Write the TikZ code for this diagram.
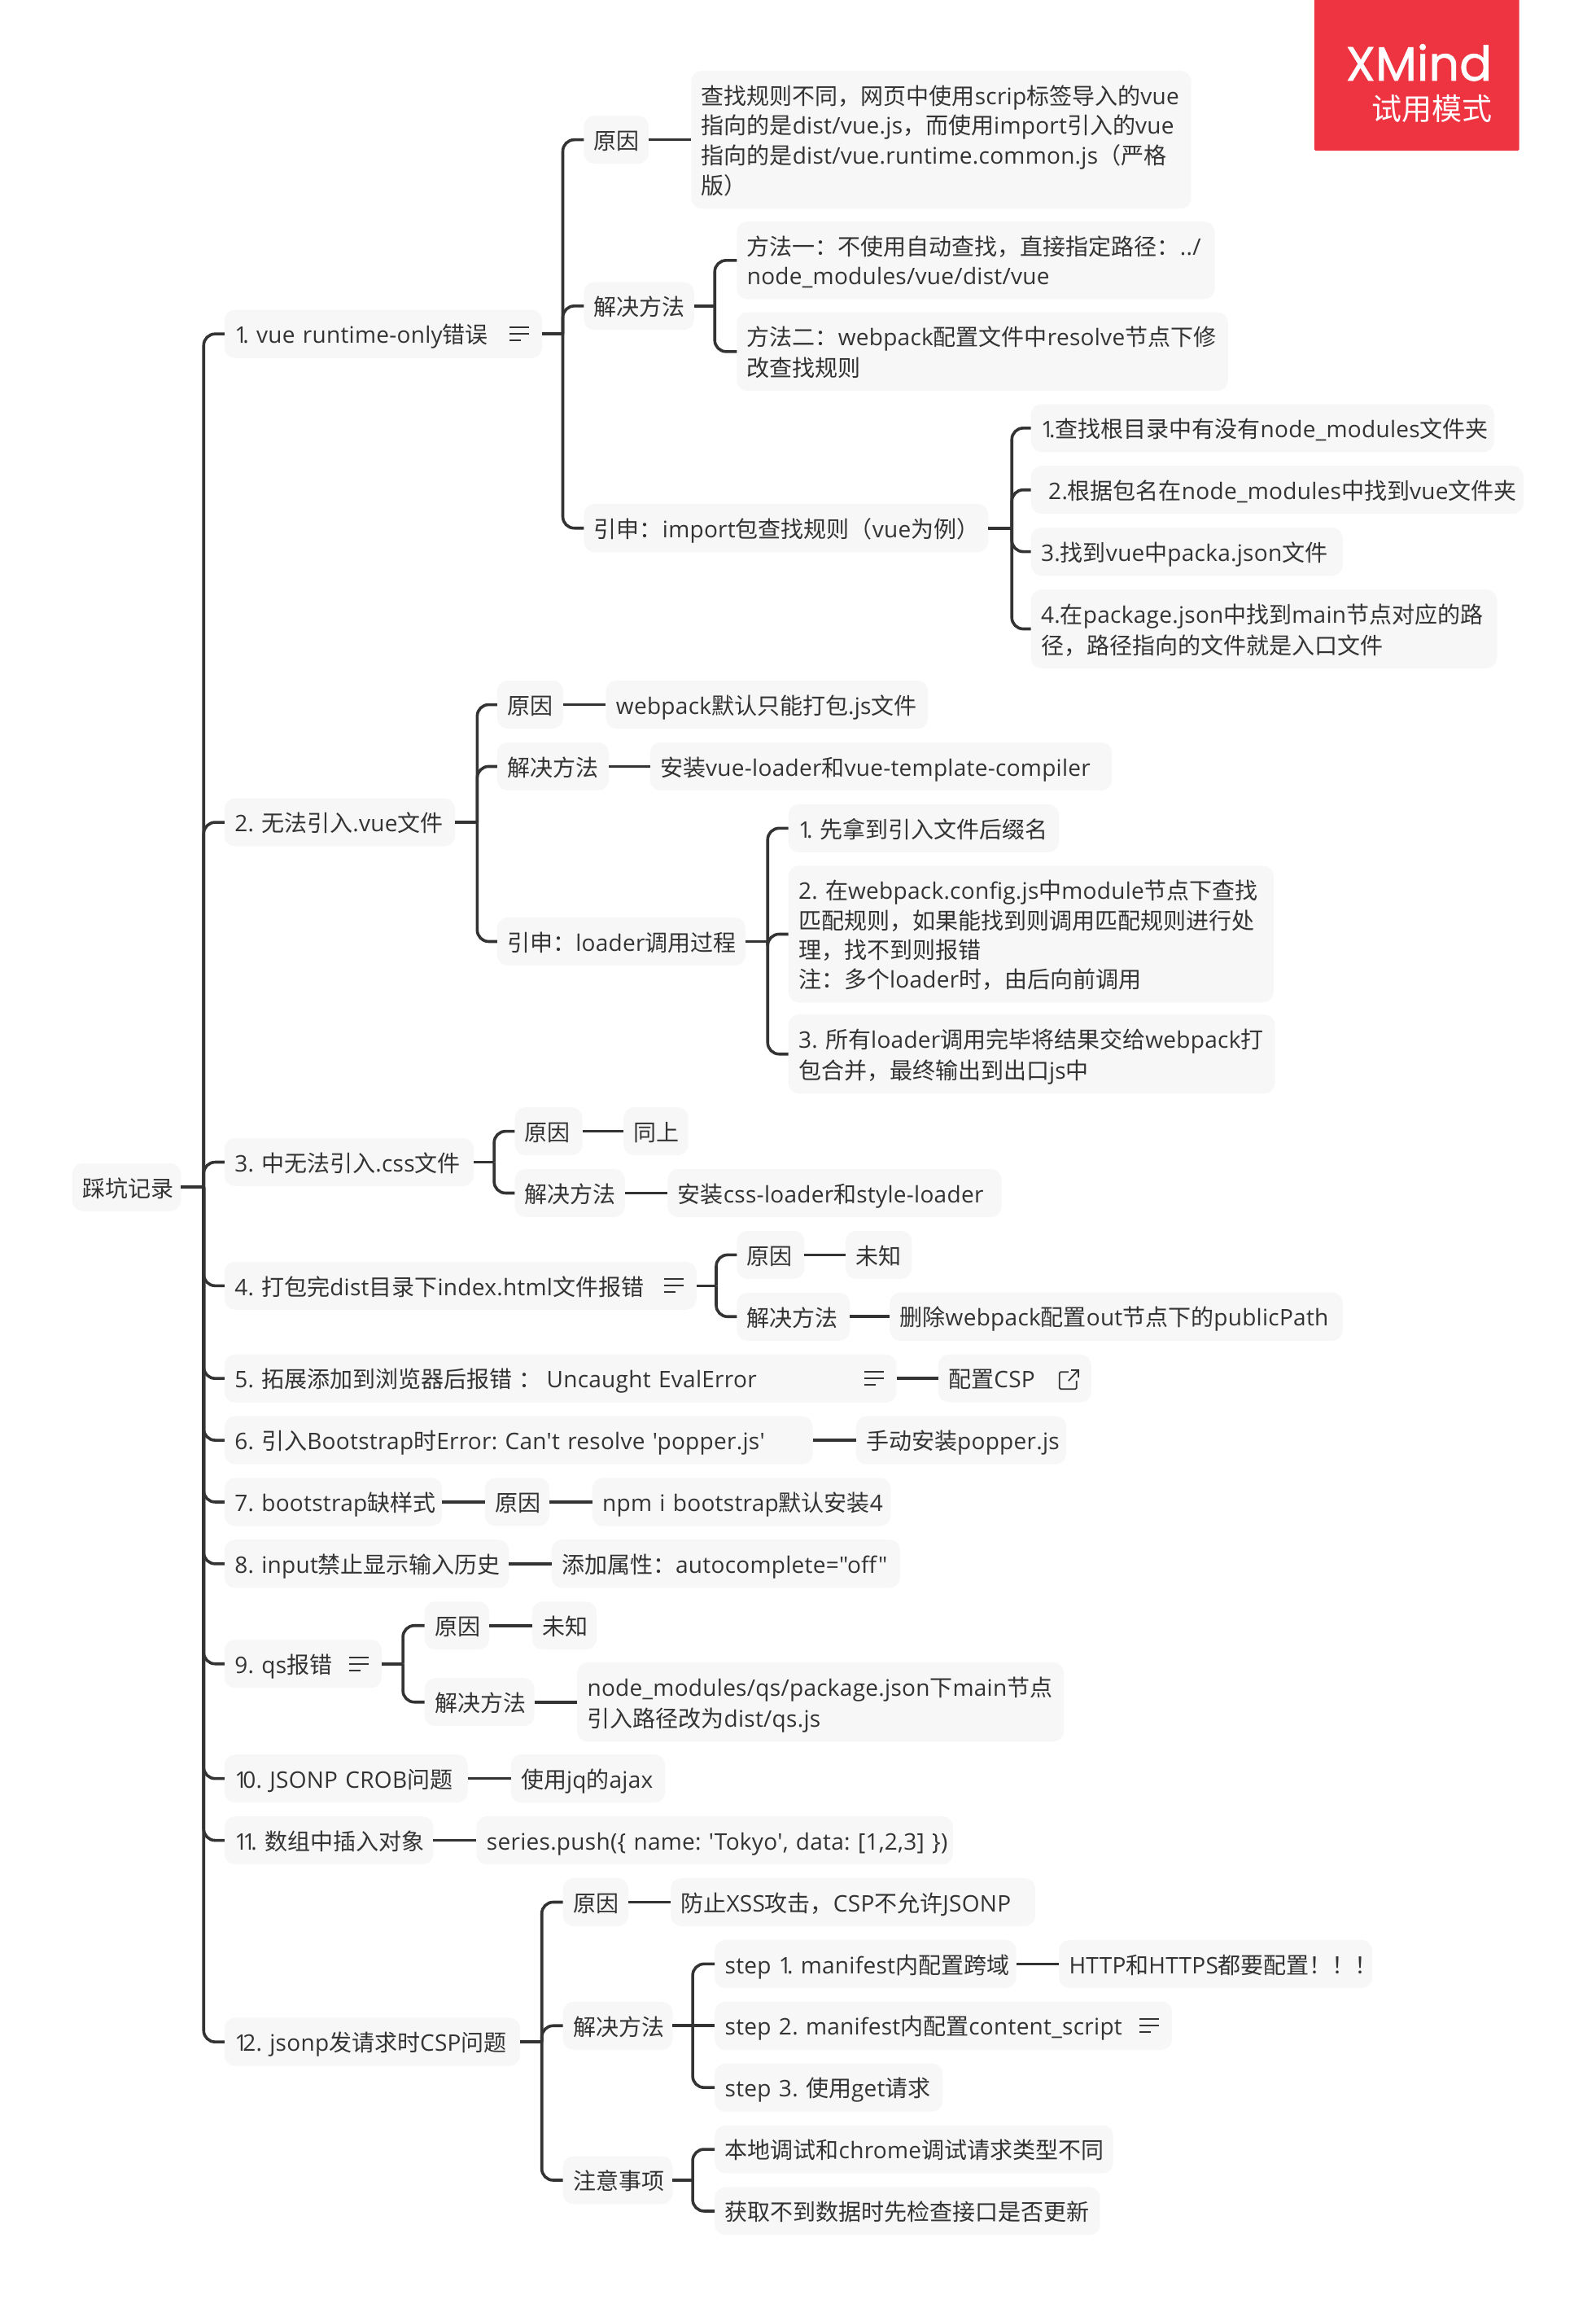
\documentclass[tikz,border=0pt]{standalone}
\usepackage{fontspec}
\newfontfamily\latinfont{Open Sans}[LetterSpace=1]
\newfontfamily\cjkfont{Noto Sans CJK SC}
\newfontfamily\logofont{Poppins}[FakeBold=1]
% CJK runs take their own font
\newXeTeXintercharclass\cjkclass
\newcount\cjkchar
\cjkchar="21 \loop \XeTeXcharclass\cjkchar=0 \advance\cjkchar by 1 \ifnum\cjkchar<"7F \repeat
\cjkchar="2E80 \loop \XeTeXcharclass\cjkchar=\cjkclass \advance\cjkchar by 1 \ifnum\cjkchar<"A000 \repeat
\cjkchar="FF00 \loop \XeTeXcharclass\cjkchar=\cjkclass \advance\cjkchar by 1 \ifnum\cjkchar<"FFF0 \repeat
\XeTeXinterchartokenstate=1
\XeTeXinterchartoks 0 \cjkclass={\cjkfont}
\XeTeXinterchartoks 4095 \cjkclass={\cjkfont}
\XeTeXinterchartoks \cjkclass 0 ={\latinfont}
\XeTeXinterchartoks \cjkclass 4095 ={\latinfont}
\definecolor{ink}{HTML}{333333}
\definecolor{topicfill}{HTML}{F7F7F7}
\definecolor{logored}{HTML}{EE3440}
\newcommand{\nodeStrut}{\hyphenpenalty=10000 \exhyphenpenalty=10000 \rule[-6.4pt]{0pt}{36.4pt}}
\newcommand{\one}{1\kern-6pt}
\tikzset{
    topic/.style={
        fill=topicfill, text=ink, rounded corners=13pt, anchor=west,
        align=left, inner xsep=12.5pt, inner ysep=11.3pt, outer sep=0pt,
        text width={(#1)*1.807pt-25pt},
        font=\latinfont\fontsize{28pt}{36.4pt}\selectfont,
        execute at begin node=\nodeStrut, execute at end node=\nodeStrut
    },
    link/.style={draw=ink, line width=3.6pt},
    twig/.style={link, rounded corners=14pt},
    noteline/.style={draw=ink, line width=1.7pt}
}
\newcommand{\noteMark}[1]{
	\begin{scope}[shift={(#1.east)},x=1pt,y=1pt]
		\draw[noteline] (-40,8) -- (-16,8);
		\draw[noteline] (-40,0) -- (-16,0);
		\draw[noteline] (-40,-8) -- (-26,-8);
	\end{scope}
}
\newcommand{\linkMark}[1]{
	\begin{scope}[shift={(#1.east)},x=1pt,y=1pt]
		\draw[noteline, rounded corners=1.5pt] (-28,8) -- (-39,8) -- (-39,-13) -- (-18,-13) -- (-18,-3);
		\draw[noteline] (-28,-3) -- (-16,10);
		\draw[noteline] (-25,10) -- (-16,10) -- (-16,1);
	\end{scope}
}

\begin{document}
\begin{tikzpicture}[x=1.807pt,y=-1.807pt]
	\useasboundingbox (0,0) rectangle (1085.2,1568.9);

	% Trial stamp
	\fill [logored, rounded corners=1.5pt] (893.7,-5) rectangle (1033,102.4);
	\node [text=white, anchor=east, inner sep=0pt, font=\logofont\fontsize{59pt}{62pt}\selectfont] (logoName) at (1014.5,42.5) {XMind};
	\node [text=white, anchor=east, inner sep=0pt, font=\cjkfont\fontsize{37pt}{40pt}\selectfont] (logoMode) at (1014.5,74) {试用模式};

	% Root and its twelve topics
	\node[topic=74] (root) at (49,807) {踩坑记录};
	\node[topic=216] (t1) at (152.6,227) {\one.~vue~runtime-only错误};
	\node[topic=157] (t2) at (152.6,559) {2.~无法引入.vue文件};
	\node[topic=169.5] (t3) at (152.6,790) {3.~中无法引入.css文件};
	\node[topic=321] (t4) at (152.6,874) {4.~打包完dist目录下index.html文件报错};
	\node[topic=457] (t5) at (152.6,937) {5.~拓展添加到浏览器后报错\kern8pt：\kern-3pt~Uncaught~EvalError};
	\node[topic=400] (t6) at (152.6,979) {6.~引入Bootstrap时Error:~Can't~resolve~'popper.js'};
	\node[topic=148] (t7) at (152.6,1021) {7.~bootstrap缺样式};
	\node[topic=193.5] (t8) at (152.6,1063) {8.~input禁止显示输入历史};
	\node[topic=107] (t9) at (152.6,1131) {9.~qs报错};
	\node[topic=165.5] (t10) at (152.6,1209) {\one0.~JSONP~CROB问题};
	\node[topic=142] (t11) at (152.6,1251) {\one\one.~数组中插入对象};
	\node[topic=201] (t12) at (152.6,1388) {\one2.~jsonp发请求时CSP问题};
	\noteMark{t1}
	\noteMark{t4}
	\noteMark{t5}
	\noteMark{t9}
	\coordinate (jRoot) at (138.5,807);
	\draw[link] (root.east) -- (jRoot);
	\foreach \n in {t1,t2,t3,t4,t5,t6,t7,t8,t9,t10,t11,t12}
		\draw[twig] (\n.west) -| (jRoot);

	% Topic 1
	\node[topic=44] (why1) at (397,95) {原因};
	\node[topic=340] (why1Text) at (470,95) {查找规则不同，网页中使用scrip标签导入的vue\\指向的是dist/vue.js，而使用import引入的vue\\指向的是dist/vue.runtime.common.js（严格\\版）};
	\node[topic=75] (fix1) at (397,208) {解决方法};
	\node[topic=325] (fix1a) at (501,177) {方法一：不使用自动查找，直接指定路径：../\\node\_modules/vue/dist/vue};
	\node[topic=334] (fix1b) at (501,239) {方法二：webpack配置文件中resolve节点下修\\改查找规则};
	\node[topic=275] (more1) at (397,359) {引申：import包查找规则（vue为例）};
	\node[topic=315] (more1a) at (701,291) {\one.查找根目录中有没有node\_modules文件夹};
	\node[topic=335] (more1b) at (701,333) {\hspace*{9pt}2.根据包名在node\_modules中找到vue文件夹};
	\node[topic=212] (more1c) at (701,375) {3.找到vue中packa.json文件};
	\node[topic=317] (more1d) at (701,427.5) {4.在package.json中找到main节点对应的路\\径，路径指向的文件就是入口文件};
	\coordinate (j1) at (382.7,227);
	\coordinate (j1Fix) at (486,208);
	\coordinate (j1More) at (688,359);
	\draw[link] (t1.east) -- (j1);
	\draw[link] (fix1.east) -- (j1Fix);
	\draw[link] (more1.east) -- (j1More);
	\draw[link] (why1.east) -- (why1Text.west);
	\foreach \n in {why1,fix1,more1}
		\draw[twig] (\n.west) -| (j1);
	\foreach \n in {fix1a,fix1b}
		\draw[twig] (\n.west) -| (j1Fix);
	\foreach \n in {more1a,more1b,more1c,more1d}
		\draw[twig] (\n.west) -| (j1More);

	% Topic 2
	\node[topic=45] (why2) at (338,479) {原因};
	\node[topic=219] (why2Text) at (412,479) {webpack默认只能打包.js文件};
	\node[topic=76] (fix2) at (338,521) {解决方法};
	\node[topic=314] (fix2Text) at (442,521) {安装vue-loader和vue-template-compiler};
	\node[topic=169] (more2) at (338,640) {引申：loader调用过程};
	\node[topic=184] (more2a) at (536,563) {\one.~先拿到引入文件后缀名};
	\node[topic=330] (more2b) at (536,635) {2.~在webpack.config.js中module节点下查找\\匹配规则，如果能找到则调用匹配规则进行处\\理，找不到则报错\\注：多个loader时，由后向前调用};
	\node[topic=331] (more2c) at (536,716.5) {3.~所有loader调用完毕将结果交给webpack打\\包合并，最终输出到出口js中};
	\coordinate (j2) at (324.5,559);
	\coordinate (j2More) at (522,640);
	\draw[link] (t2.east) -- (j2);
	\draw[link] (more2.east) -- (j2More);
	\draw[link] (why2.east) -- (why2Text.west);
	\draw[link] (fix2.east) -- (fix2Text.west);
	\foreach \n in {why2,fix2,more2}
		\draw[twig] (\n.west) -| (j2);
	\foreach \n in {more2a,more2b,more2c}
		\draw[twig] (\n.west) -| (j2More);

	% Topic 3
	\node[topic=46] (why3) at (350,769) {原因};
	\node[topic=44] (why3Text) at (424,769) {同上};
	\node[topic=75] (fix3) at (350,811) {解决方法};
	\node[topic=227] (fix3Text) at (454,811) {安装css-loader和style-loader};
	\coordinate (j3) at (336,790);
	\draw[link] (t3.east) -- (j3);
	\draw[link] (why3.east) -- (why3Text.west);
	\draw[link] (fix3.east) -- (fix3Text.west);
	\foreach \n in {why3,fix3}
		\draw[twig] (\n.west) -| (j3);

	% Topic 4
	\node[topic=46] (why4) at (501,853) {原因};
	\node[topic=45] (why4Text) at (575,853) {未知};
	\node[topic=77] (fix4) at (501,895) {解决方法};
	\node[topic=308] (fix4Text) at (605,895) {删除webpack配置out节点下的publicPath};
	\coordinate (j4) at (487,874);
	\draw[link] (t4.east) -- (j4);
	\draw[link] (why4.east) -- (why4Text.west);
	\draw[link] (fix4.east) -- (fix4Text.west);
	\foreach \n in {why4,fix4}
		\draw[twig] (\n.west) -| (j4);

	% Topics 5 to 8
	\node[topic=104] (csp5) at (638,937) {配置CSP};
	\linkMark{csp5}
	\node[topic=143] (fix6) at (582,979) {手动安装popper.js};
	\node[topic=44] (why7) at (329.6,1021) {原因};
	\node[topic=203] (why7Text) at (402.7,1021) {npm~i~bootstrap默认安装4};
	\node[topic=237] (fix8) at (375,1063) {添加属性：autocomplete="off"};
	\draw[link] (t5.east) -- (csp5.west);
	\draw[link] (t6.east) -- (fix6.west);
	\draw[link] (t7.east) -- (why7.west);
	\draw[link] (why7.east) -- (why7Text.west);
	\draw[link] (t8.east) -- (fix8.west);

	% Topic 9
	\node[topic=44] (why9) at (288.7,1105) {原因};
	\node[topic=44] (why9Text) at (361.7,1105) {未知};
	\node[topic=74.7] (fix9) at (288.7,1157) {解决方法};
	\node[topic=331] (fix9Text) at (392.4,1157) {node\_modules/qs/package.json下main节点\\引入路径改为dist/qs.js};
	\coordinate (j9) at (274,1131);
	\draw[link] (t9.east) -- (j9);
	\draw[link] (why9.east) -- (why9Text.west);
	\draw[link] (fix9.east) -- (fix9Text.west);
	\foreach \n in {why9,fix9}
		\draw[twig] (\n.west) -| (j9);

	% Topics 10 and 11
	\node[topic=105] (fix10) at (347.3,1209) {使用jq的ajax};
	\node[topic=324] (fix11) at (324,1251) {series.push(\{~name:~'Tokyo',~data:~[1,2,3]~\})};
	\draw[link] (t10.east) -- (fix10.west);
	\draw[link] (t11.east) -- (fix11.west);

	% Topic 12
	\node[topic=44.5] (why12) at (382.8,1293) {原因};
	\node[topic=248] (why12Text) at (456,1293) {防止XSS攻击，CSP不允许JSONP};
	\node[topic=74.5] (fix12) at (382.8,1377) {解决方法};
	\node[topic=205] (fix12a) at (486,1335) {step~\one.~manifest内配置跨域};
	\node[topic=213] (fix12aText) at (720,1335) {HTTP和HTTPS都要配置！！！};
	\node[topic=311] (fix12b) at (486,1377) {step~2.~manifest内配置content\_script};
	\node[topic=155] (fix12c) at (486,1419) {step~3.~使用get请求};
	\node[topic=74.5] (note12) at (382.8,1482) {注意事项};
	\node[topic=271] (note12a) at (486,1461) {本地调试和chrome调试请求类型不同};
	\node[topic=262] (note12b) at (486,1503) {获取不到数据时先检查接口是否更新};
	\noteMark{fix12b}
	\coordinate (j12) at (368.4,1388);
	\coordinate (j12Fix) at (471,1377);
	\coordinate (j12Note) at (471,1482);
	\draw[link] (t12.east) -- (j12);
	\draw[link] (fix12.east) -- (j12Fix);
	\draw[link] (note12.east) -- (j12Note);
	\draw[link] (why12.east) -- (why12Text.west);
	\draw[link] (fix12a.east) -- (fix12aText.west);
	\foreach \n in {why12,fix12,note12}
		\draw[twig] (\n.west) -| (j12);
	\foreach \n in {fix12a,fix12c}
		\draw[twig] (\n.west) -| (j12Fix);
	\draw[link] (fix12b.west) -- (j12Fix);
	\foreach \n in {note12a,note12b}
		\draw[twig] (\n.west) -| (j12Note);
\end{tikzpicture}
\end{document}
